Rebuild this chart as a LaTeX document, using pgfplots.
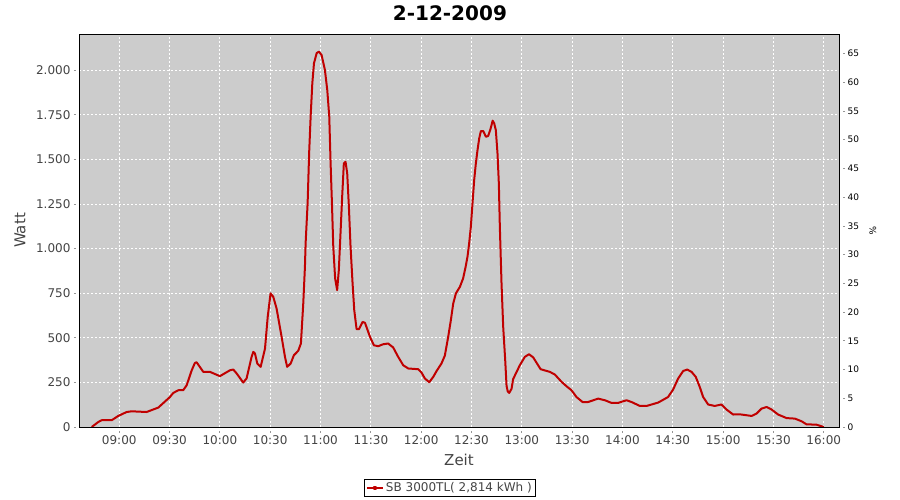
\documentclass[border=0pt]{standalone}
\usepackage{pgfplots}
\pgfplotsset{compat=1.18}
\usepackage{fontspec}
\setmainfont{DejaVu Sans}
\definecolor{plotbg}{RGB}{204,204,204}
\definecolor{linered}{RGB}{192,0,0}
\definecolor{txtgray}{RGB}{68,68,68}
\definecolor{axgray}{RGB}{150,150,150}
\begin{document}
\begin{tikzpicture}
\begin{axis}[
  scale only axis, width=760pt, height=393pt,
  xmin=516, xmax=969.1, ymin=0, ymax=2203,
  axis background/.style={fill=plotbg},
  axis line style={black, line width=0.8pt},
  xtick={540,570,...,960},
  xticklabels={09:00,09:30,10:00,10:30,11:00,11:30,12:00,12:30,13:00,13:30,14:00,14:30,15:00,15:30,16:00},
  ytick={0,250,...,2000},
  scaled y ticks=false,
  /pgf/number format/1000 sep={.},
  /pgf/number format/assume math mode=true,
  tick label style={font=\fontsize{12}{14}\selectfont, text=txtgray},
  tick align=outside, major tick length=2pt,
  xtick style={axgray, yshift=-4pt, line width=0.8pt},
  ytick style={axgray, xshift=-3pt, line width=0.8pt},
  xticklabel style={yshift=-3pt},
  yticklabel style={xshift=-3pt},
  xtick pos=bottom, ytick pos=left,
  grid=major,
  major grid style={white, dash pattern=on 2pt off 2pt, line width=0.8pt},
  xlabel={Zeit}, ylabel={Watt},
  xlabel style={at={(axis description cs:0.5,-0.084)}, anchor=center, font=\fontsize{15}{17}\selectfont, text=txtgray},
  ylabel style={at={(axis description cs:-0.0776,0.5)}, anchor=center, font=\fontsize{15}{17}\selectfont, text=txtgray},
  title={2-12-2009},
  title style={at={(axis description cs:0.488,1.0178)}, anchor=base, inner sep=0pt, font=\fontsize{20}{24}\selectfont\bfseries},
  legend style={at={(axis description cs:0.488,-0.155)}, anchor=center, draw=black, line width=0.8pt, font=\fontsize{12}{14}\selectfont, text=txtgray, inner sep=1.5pt},
  legend image code/.code={\draw[#1] (0pt,0pt) -- (16pt,0pt); \fill[linered] (7pt,-1pt) rectangle (9pt,1pt);},
  clip=true,
]
\addplot[linered, line width=2pt, line join=round] coordinates {
(523.6,0) (527.5,28) (529.5,38) (535.5,38) (539.4,62) (544.4,84) (547.4,88) (556.3,84)
(563.3,109) (570.2,168) (572.2,191) (575.2,206) (578.1,206) (580.2,234) (583.2,318)
(585.1,359) (586.1,363) (590.1,309) (594.1,309) (600,285) (606,318) (608,322) (610,300)
(613.9,249) (615.9,272) (618.9,393) (619.9,421) (620.9,412) (622.3,356) (624.3,337)
(626.9,440) (628.5,617) (630.2,749) (631.8,730) (633.8,664) (636.8,505) (638.8,393)
(640.1,337) (642.2,356) (644.1,402) (646.7,427) (648.3,468) (649.7,692) (650.7,898)
(651.1,1029) (652.3,1254) (653.2,1534) (654.1,1740) (655.1,1927) (656.1,2039)
(657.7,2096) (659.0,2104) (660.6,2086) (662.6,2002) (664.0,1890) (665.2,1740)
(666.0,1478) (666.8,1254) (667.6,1010) (668.7,833) (669.9,767) (670.9,879)
(672.0,1104) (672.9,1291) (673.9,1478) (674.9,1487) (675.9,1422) (676.9,1235)
(677.9,1010) (679.1,805) (680.1,655) (681.5,548) (682.9,548) (685.1,589) (686.5,584)
(689.5,505) (691.8,458) (694.4,453) (697.4,464) (700.3,468) (703.3,446) (706.3,393)
(709.3,346) (712.3,328) (718.2,324) (720.2,305) (722.2,272) (724.8,251) (727.2,281)
(729.2,314) (732.1,356) (734.1,400) (736.1,505) (737.7,599) (739.1,692) (740.7,749)
(743.1,786) (745.0,833) (746.5,898) (747.6,954) (748.6,1029) (749.6,1122)
(750.6,1254) (751.6,1384) (752.6,1478) (753.6,1553) (754.6,1618) (755.6,1659)
(757.0,1659) (758.6,1627) (759.9,1631) (761.3,1669) (762.6,1717) (763.5,1703)
(764.5,1665) (765.5,1534) (766.3,1366) (766.9,1122) (767.9,805) (768.9,561)
(770.1,374) (770.9,230) (771.6,200) (772.5,191) (773.9,215) (774.8,268) (776.9,309)
(778.8,346) (781.8,393) (784.3,408) (786.8,390) (791.2,324) (796.7,309) (799.7,294)
(803.7,253) (806.7,228) (809.6,206) (812.6,168) (816.2,140) (819.5,140) (825.5,159)
(829.5,150) (833.5,135) (837.4,135) (842.4,150) (845.4,140) (850.4,118) (854.4,118)
(861.3,137) (867.2,168) (870.2,210) (873.2,272) (876.2,314) (878.6,322) (881.2,309)
(883.7,281) (886.1,224) (888.1,168) (891.1,126) (895.0,118) (899.0,126) (902.0,98)
(906.0,70) (910.0,71) (917.0,62) (919.9,75) (922.9,103) (925.9,112) (928.9,98)
(932.8,70) (937.8,50) (942.8,47) (946.8,32) (949.7,15) (955.7,13) (958.7,4) (960,0)
};
\addlegendentry{SB 3000TL( 2,814 kWh )}
\draw[axgray, line width=0.8pt] ([xshift=-3pt]rel axis cs:0,0) -- ([xshift=-3pt]rel axis cs:0,1);
\draw[axgray, line width=0.8pt] ([yshift=-4pt]rel axis cs:0,0) -- ([yshift=-4pt]rel axis cs:1,0);
\draw[axgray, line width=0.8pt] ([xshift=4pt]rel axis cs:1,0) -- ([xshift=4pt]rel axis cs:1,1);
\end{axis}
\begin{axis}[
  scale only axis, width=760pt, height=393pt,
  xmin=516, xmax=969.1, ymin=0, ymax=68.4,
  axis x line=none,
  axis y line*=right,
  y axis line style={draw=none},
  ytick={0,5,...,65},
  /pgf/number format/assume math mode=true,
  tick label style={font=\fontsize{9}{11}\selectfont, text=black},
  tick align=outside, major tick length=2pt,
  ytick style={axgray, xshift=4pt, line width=0.8pt},
  yticklabel style={xshift=3pt},
  ylabel={\%},
  ylabel style={at={(axis description cs:1.0447,0.5)}, anchor=center, rotate=180, font=\fontsize{9}{11}\selectfont},
]
\addplot[draw=none] coordinates {(540,0)};
\end{axis}
\pgfresetboundingbox
\path (-79pt,-73pt) rectangle (821pt,427pt);
\end{tikzpicture}
\end{document}
